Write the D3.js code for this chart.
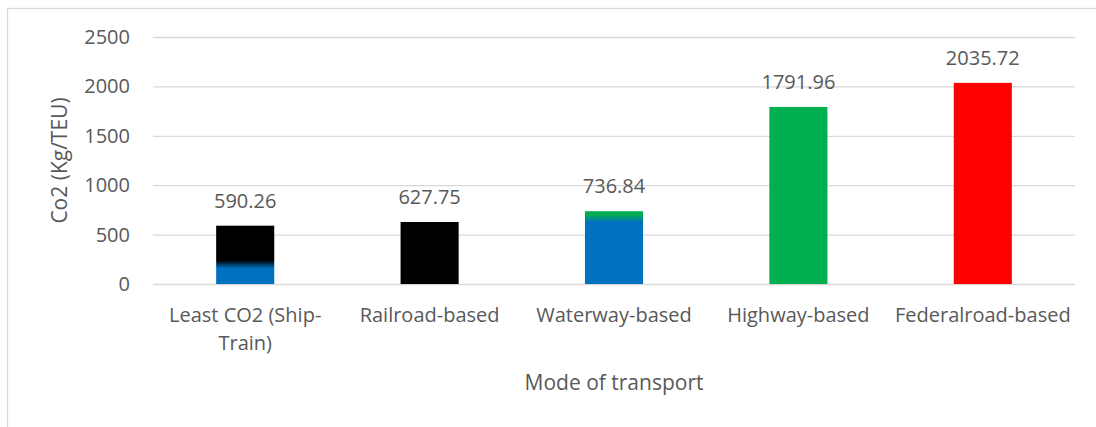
<!doctype html>
<html lang="en">
<head>
<meta charset="utf-8">
<title>CO2 by mode of transport</title>
<script src="https://cdn.jsdelivr.net/npm/d3@7"></script>
<style>
  body { margin: 0; background: #fff; }
  text { font-family: "Open Sans", sans-serif; fill: #595959; }
  .grid line { stroke: #d9d9d9; stroke-width: 1.3px; }
  .grid path { display: none; }
</style>
</head>
<body>
<svg id="chart" width="1096" height="427"></svg>
<script>
// data
var categories = ["Least CO2 (Ship-Train)", "Railroad-based", "Waterway-based", "Highway-based", "Federalroad-based"];
var totals = [590.26, 627.75, 736.84, 1791.96, 2035.72];
// stacked pieces, bottom to top (colour, value)
var pieceColors = [
  ["#0070C0", "#000000"],
  ["#000000"],
  ["#0070C0", "#00B050"],
  ["#00B050"],
  ["#FF0000"]
];
var pieceValues = [
  [200, 390.26],
  [627.75],
  [662, 74.84],
  [1791.96],
  [2035.72]
];
var yTicks = [0, 500, 1000, 1500, 2000, 2500];

var svg = d3.select("#chart");
var plotL = 153, plotR = 1075, plotT = 37, plotB = 284;

// outer frame
svg.append("rect")
  .attr("x", 7.5).attr("y", 8.5).attr("width", 1100).attr("height", 440)
  .attr("fill", "none").attr("stroke", "#d9d9d9").attr("stroke-width", 1.3);

var x = d3.scaleBand().domain(categories).range([plotL, plotR]).paddingInner(0.685).paddingOuter(0.3425);
var y = d3.scaleLinear().domain([0, 2500]).range([plotB, plotT]);

svg.append("g").attr("class", "grid")
  .attr("transform", "translate(" + plotL + ",0)")
  .call(d3.axisLeft(y).tickValues(yTicks).tickSize(-(plotR - plotL)).tickFormat(""));

svg.append("g").selectAll("text").data(yTicks).join("text")
  .attr("x", 130).attr("y", d => y(d)).attr("dy", "0.35em")
  .attr("text-anchor", "end").attr("font-size", 20)
  .text(d => d);

// gradient per bar: solid pieces with a soft blend at each boundary
var defs = svg.append("defs");
categories.forEach(function (c, i) {
  var g = defs.append("linearGradient").attr("id", "bar" + i)
    .attr("x1", 0).attr("y1", 1).attr("x2", 0).attr("y2", 0);
  var total = totals[i], acc = 0, blend = 4 / (y(0) - y(total));
  pieceValues[i].forEach(function (v, j) {
    var from = acc / total, to = (acc + v) / total;
    g.append("stop").attr("offset", j === 0 ? 0 : from + blend).attr("stop-color", pieceColors[i][j]);
    g.append("stop").attr("offset", j === pieceValues[i].length - 1 ? 1 : to - blend).attr("stop-color", pieceColors[i][j]);
    acc += v;
  });
});

svg.append("g").selectAll("rect").data(categories).join("rect")
  .attr("x", d => x(d)).attr("width", x.bandwidth())
  .attr("y", (d, i) => y(totals[i])).attr("height", (d, i) => y(0) - y(totals[i]))
  .attr("fill", (d, i) => "url(#bar" + i + ")");

svg.append("g").selectAll("text").data(categories).join("text")
  .attr("x", d => x(d) + x.bandwidth() / 2)
  .attr("y", (d, i) => y(totals[i]) - 18)
  .attr("text-anchor", "middle").attr("font-size", 20).attr("fill", "#404040")
  .text((d, i) => totals[i].toFixed(2));

// category labels, wrapped after a hyphen when too wide
var catLabels = svg.append("g").selectAll("text").data(categories).join("text")
  .attr("x", d => x(d) + x.bandwidth() / 2)
  .attr("y", 322)
  .attr("text-anchor", "middle").attr("font-size", 20);
catLabels.each(function (d) {
  var t = d3.select(this), cx = +t.attr("x");
  t.text(d);
  if (this.getComputedTextLength() <= 190) return;
  var cut = d.lastIndexOf("-", d.length - 2) + 1;
  t.text(null);
  t.append("tspan").attr("x", cx).text(d.slice(0, cut));
  t.append("tspan").attr("x", cx).attr("dy", 28).text(d.slice(cut));
});

svg.append("text")
  .attr("x", (plotL + plotR) / 2).attr("y", 390)
  .attr("text-anchor", "middle").attr("font-size", 21)
  .text("Mode of transport");

svg.append("text")
  .attr("transform", "translate(67," + (plotT + plotB) / 2 + ") rotate(-90)")
  .attr("text-anchor", "middle").attr("font-size", 21)
  .text("Co2 (Kg/TEU)");
</script>
</body>
</html>
